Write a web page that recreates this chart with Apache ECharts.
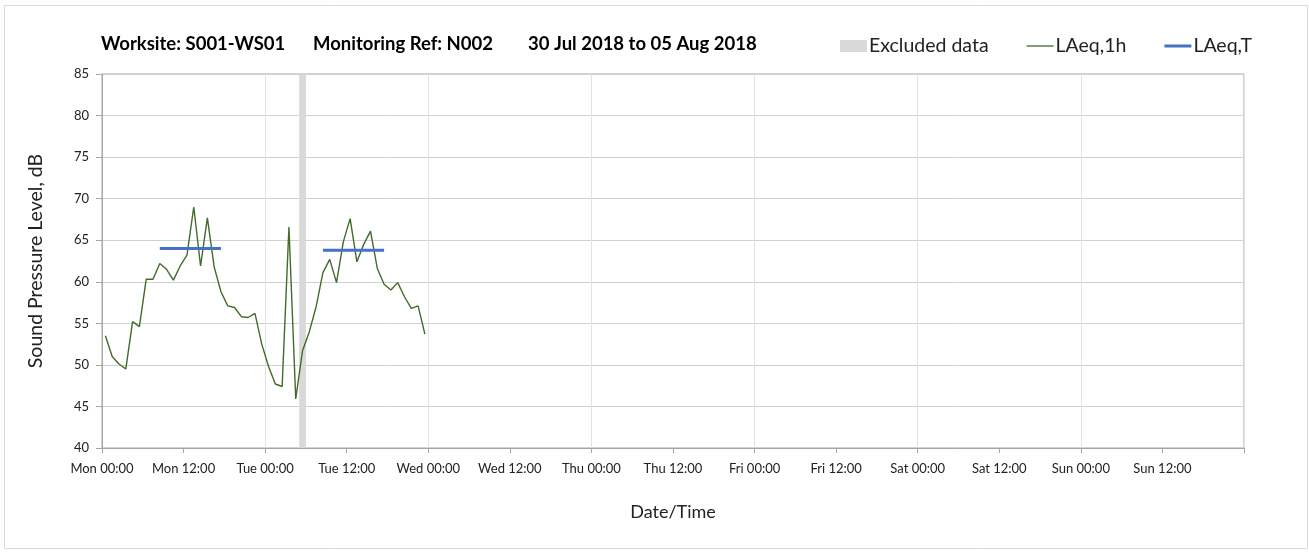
<!DOCTYPE html>
<html>
<head>
<meta charset="utf-8">
<title>Noise monitoring S001-WS01</title>
<script src="https://cdn.jsdelivr.net/npm/echarts@6/dist/echarts.min.js"></script>
<style>
  html, body { margin: 0; padding: 0; background: #fff; }
  #chart { width: 1309px; height: 554px; }
</style>
</head>
<body>
<div id="chart"></div>
<script>
// hourly LAeq values, first point is Mon 00:00-01:00 (plotted mid hour)
const laeq1h = [
  53.5, 51.0, 50.1, 49.5, 55.2, 54.6, 60.3, 60.3, 62.2, 61.5,
  60.2, 61.9, 63.2, 69.0, 61.9, 67.7, 61.8, 58.8, 57.1, 56.9,
  55.8, 55.7, 56.2, 52.5, 49.8, 47.7, 47.4, 66.6, 45.9, 51.7,
  54.0, 57.0, 61.1, 62.7, 59.9, 64.8, 67.6, 62.4, 64.5, 66.1,
  61.6, 59.7, 59.0, 59.9, 58.2, 56.8, 57.1, 53.7
]
// LAeq,T periods (hours from Mon 00:00)
const periodStart = [8.5, 32.5]
const periodEnd = [17.5, 41.5]
const laeqT = [64.0, 63.8]
// excluded data (hours from Mon 00:00)
const excludedStart = [29]
const excludedEnd = [30]
const dayNames = ['Mon', 'Tue', 'Wed', 'Thu', 'Fri', 'Sat', 'Sun']
const hoursTotal = 168

const font = 'Lato, "Open Sans", sans-serif'

const lineData = laeq1h.map((v, i) => [i + 0.5, v])
const tData = []
laeqT.forEach((v, i) => {
  if (i > 0) tData.push('-')
  tData.push([periodStart[i], v], [periodEnd[i], v])
})

const chart = echarts.init(document.getElementById('chart'))
chart.setOption({
  animation: false,
  graphic: [{
    type: 'rect',
    shape: { x: 4.5, y: 5.5, width: 1303, height: 543 },
    style: { fill: 'none', stroke: '#d9d9d9', lineWidth: 1 },
    silent: true
  }],
  title: [
    { text: 'Worksite: S001-WS01', left: 101, top: 35 },
    { text: 'Monitoring Ref: N002', left: 313, top: 35 },
    { text: '30 Jul 2018 to 05 Aug 2018', left: 528, top: 35 }
  ].map(t => Object.assign(t, {
    padding: 0,
    textStyle: { fontFamily: font, fontSize: 18.5, fontWeight: 'bold', color: '#000' }
  })),
  legend: {
    left: 840,
    top: 36,
    padding: 0,
    itemWidth: 27,
    itemHeight: 12,
    itemGap: 38,
    textStyle: { fontFamily: font, fontSize: 19.5, color: '#222', padding: [0, 0, 0, -3] },
    data: [
      { name: 'Excluded data', icon: 'rect', itemStyle: { color: '#d9d9d9' } },
      { name: 'LAeq,1h', icon: 'path://M0,0H27V1.3H0Z', itemStyle: { color: '#426b2b' } },
      { name: 'LAeq,T', icon: 'path://M0,0H27V3H0Z', itemStyle: { color: '#4472c4' } }
    ]
  },
  grid: {
    left: 102,
    right: 65,
    top: 74,
    bottom: 106,
    show: true,
    borderColor: '#a6a6a6',
    borderWidth: 1
  },
  xAxis: [
    {
      type: 'value',
      position: 'bottom',
      min: 0,
      max: hoursTotal,
      interval: 12,
      name: 'Date/Time',
      nameLocation: 'middle',
      nameGap: 55,
      nameTextStyle: { fontFamily: font, fontSize: 18, color: '#222' },
      axisLine: { lineStyle: { color: '#a6a6a6' } },
      axisTick: { length: 5, lineStyle: { color: '#a6a6a6' } },
      axisLabel: {
        fontFamily: font,
        fontSize: 13,
        color: '#222',
        margin: 14,
        formatter: v => {
          if (v >= hoursTotal) return ''
          const d = dayNames[Math.floor(v / 24)]
          return d + (v % 24 === 0 ? ' 00:00' : ' 12:00')
        }
      },
      splitLine: { show: false }
    },
    {
      // day boundaries only, for the vertical grid lines
      type: 'value',
      position: 'bottom',
      min: 0,
      max: hoursTotal,
      interval: 24,
      axisLine: { show: false },
      axisTick: { show: false },
      axisLabel: { show: false },
      splitLine: { show: true, lineStyle: { color: '#e2e2e2' } }
    }
  ],
  yAxis: {
    type: 'value',
    min: 40,
    max: 85,
    interval: 5,
    name: 'Sound Pressure Level, dB',
    nameLocation: 'middle',
    nameGap: 56,
    nameTextStyle: { fontFamily: font, fontSize: 19.5, color: '#222' },
    axisLine: { show: true, lineStyle: { color: '#a6a6a6' } },
    axisTick: { show: true, length: 6, lineStyle: { color: '#a6a6a6' } },
    axisLabel: { fontFamily: font, fontSize: 13, color: '#222', margin: 13 },
    splitLine: { lineStyle: { color: '#d0d0d0' } }
  },
  series: [
    {
      name: 'Excluded data',
      type: 'line',
      data: [],
      itemStyle: { color: '#d9d9d9' },
      markArea: {
        silent: true,
        itemStyle: { color: '#d9d9d9' },
        data: excludedStart.map((s, i) => [{ xAxis: s }, { xAxis: excludedEnd[i] }])
      }
    },
    {
      name: 'LAeq,1h',
      type: 'line',
      data: lineData,
      symbol: 'none',
      lineStyle: { color: '#426b2b', width: 1.4 },
      itemStyle: { color: '#426b2b' },
      z: 3
    },
    {
      name: 'LAeq,T',
      type: 'line',
      data: tData,
      symbol: 'none',
      lineStyle: { color: '#4472c4', width: 3 },
      itemStyle: { color: '#4472c4' },
      z: 4
    }
  ]
})
</script>
</body>
</html>
